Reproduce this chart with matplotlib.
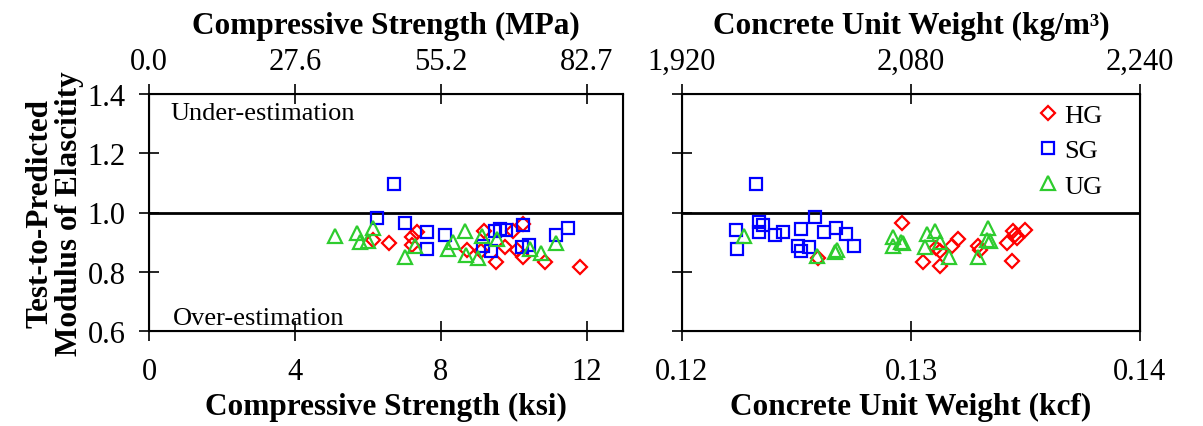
import matplotlib
matplotlib.use('Agg')
import matplotlib.pyplot as plt

plt.rcParams['font.family'] = ['Liberation Serif', 'DejaVu Serif']

# compressive strength (ksi) vs test/predicted ratio
hg_fc = [6.15, 6.58, 7.21, 7.35, 7.21, 8.72, 9.18, 9.10, 9.75, 9.51, 9.97, 10.27, 10.08, 10.27, 10.85, 11.83]
hg_fc_r = [0.907, 0.897, 0.917, 0.934, 0.890, 0.873, 0.938, 0.870, 0.883, 0.833, 0.938, 0.961, 0.873, 0.850, 0.833, 0.816]
sg_fc = [6.72, 6.26, 7.02, 7.62, 7.62, 8.11, 9.15, 9.37, 9.48, 9.64, 9.78, 10.27, 10.22, 10.41, 11.15, 11.50]
sg_fc_r = [1.096, 0.981, 0.965, 0.934, 0.877, 0.924, 0.887, 0.870, 0.938, 0.944, 0.941, 0.958, 0.883, 0.890, 0.924, 0.948]
ug_fc = [5.11, 5.71, 6.15, 5.79, 6.01, 7.30, 7.02, 8.20, 8.66, 8.33, 8.69, 9.02, 9.13, 9.54, 10.44, 10.74, 11.15]
ug_fc_r = [0.921, 0.931, 0.948, 0.900, 0.904, 0.887, 0.850, 0.877, 0.937, 0.900, 0.856, 0.846, 0.921, 0.910, 0.877, 0.863, 0.897]

# unit weight (kcf) vs ratio
hg_w = [0.12594, 0.12961, 0.13052, 0.13127, 0.13109, 0.13127, 0.13179, 0.13205, 0.13293, 0.13301,
        0.13419, 0.13441, 0.13445, 0.13454, 0.13463, 0.13498]
hg_w_r = [0.846, 0.965, 0.833, 0.819, 0.880, 0.870, 0.887, 0.910, 0.887, 0.873,
          0.897, 0.836, 0.938, 0.924, 0.914, 0.941]
sg_w = [0.12323, 0.12236, 0.12240, 0.12336, 0.12354, 0.12336, 0.12406, 0.12441, 0.12520, 0.12507,
        0.12520, 0.12555, 0.12581, 0.12620, 0.12672, 0.12716, 0.12751]
sg_w_r = [1.096, 0.941, 0.877, 0.968, 0.958, 0.934, 0.924, 0.934, 0.944, 0.887,
          0.870, 0.883, 0.985, 0.934, 0.948, 0.927, 0.887]
ug_w = [0.12271, 0.12590, 0.12668, 0.12677, 0.12921, 0.12921, 0.12956, 0.12965, 0.13070, 0.13105,
        0.13061, 0.13127, 0.13166, 0.13293, 0.13336, 0.13345, 0.13332]
ug_w_r = [0.921, 0.853, 0.866, 0.873, 0.917, 0.887, 0.900, 0.897, 0.927, 0.938,
          0.883, 0.900, 0.850, 0.850, 0.948, 0.904, 0.907]

ksi_ticks = [0, 4, 8, 12]
mpa_labels = ['0.0', '27.6', '55.2', '82.7']
kcf_ticks = [0.12, 0.13, 0.14]
kcf_labels = ['0.12', '0.13', '0.14']
kgm3_labels = ['1,920', '2,080', '2,240']
y_ticks = [0.6, 0.8, 1.0, 1.2, 1.4]

fig = plt.figure(figsize=(12.03, 4.27), dpi=100)
ax1 = fig.add_axes([149 / 1203, 1 - 332 / 427, (623 - 149) / 1203, 237 / 427])
ax2 = fig.add_axes([682 / 1203, 1 - 332 / 427, (1140 - 682) / 1203, 237 / 427])

mk = dict(linestyle='none', markerfacecolor='none', markeredgewidth=1.6)
tick_fs = 22
lab_fs = 22.5
green = '#2ecc2e'

for ax in (ax1, ax2):
    ax.axhline(1.0, color='black', lw=2, zorder=1)
    ax.set_ylim(0.6, 1.4)
    ax.set_yticks(y_ticks)
    for s in ax.spines.values():
        s.set_linewidth(1.5)
    ax.tick_params(direction='inout', length=14, width=1.2, labelsize=tick_fs, pad=10)
    ax.tick_params(axis='x', pad=12)

ax1.plot(hg_fc, hg_fc_r, marker='D', markersize=7.5, markeredgecolor='red', label='HG', **mk)
ax1.plot(sg_fc, sg_fc_r, marker='s', markersize=9, markeredgecolor='blue', label='SG', **mk)
ax1.plot(ug_fc, ug_fc_r, marker='^', markersize=10.5, markeredgecolor=green, label='UG', **mk)
ax1.set_xlim(0, 13)
ax1.set_xticks(ksi_ticks)
ax1.set_yticklabels([f'{v:.1f}' for v in y_ticks])
ax1.set_xlabel('Compressive Strength (ksi)', fontsize=lab_fs, fontweight='bold', labelpad=4)
ax1.set_ylabel('Test-to-Predicted\nModulus of Elascitity', fontsize=lab_fs, fontweight='bold',
               linespacing=1.05, labelpad=2)
ax1.text(0.045, 0.92, 'Under-estimation', transform=ax1.transAxes, fontsize=19, va='center')
ax1.text(0.05, 0.055, 'Over-estimation', transform=ax1.transAxes, fontsize=19, va='center')

top1 = ax1.twiny()
top1.set_xlim(ax1.get_xlim())
top1.set_xticks(ksi_ticks)
top1.set_xticklabels(mpa_labels)
top1.set_xlabel('Compressive Strength (MPa)', fontsize=lab_fs, fontweight='bold', labelpad=10)
top1.tick_params(direction='inout', length=14, width=1.2, labelsize=tick_fs, pad=6)

ax2.plot(hg_w, hg_w_r, marker='D', markersize=7.5, markeredgecolor='red', label='HG', **mk)
ax2.plot(sg_w, sg_w_r, marker='s', markersize=9, markeredgecolor='blue', label='SG', **mk)
ax2.plot(ug_w, ug_w_r, marker='^', markersize=10.5, markeredgecolor=green, label='UG', **mk)
ax2.set_xlim(0.12, 0.14)
ax2.set_xticks(kcf_ticks)
ax2.set_xticklabels(kcf_labels)
ax2.set_yticklabels([])
ax2.set_xlabel('Concrete Unit Weight (kcf)', fontsize=lab_fs, fontweight='bold', labelpad=4)
ax2.legend(loc='upper right', bbox_to_anchor=(0.97, 1.06), frameon=False, fontsize=19,
           handlelength=0.6, handletextpad=0.3, labelspacing=0.45)

top2 = ax2.twiny()
top2.set_xlim(ax2.get_xlim())
top2.set_xticks(kcf_ticks)
top2.set_xticklabels(kgm3_labels)
top2.set_xlabel('Concrete Unit Weight (kg/m³)', fontsize=lab_fs, fontweight='bold', labelpad=10)
top2.tick_params(direction='inout', length=14, width=1.2, labelsize=tick_fs, pad=6)

fig.savefig('out.png', dpi=100)
